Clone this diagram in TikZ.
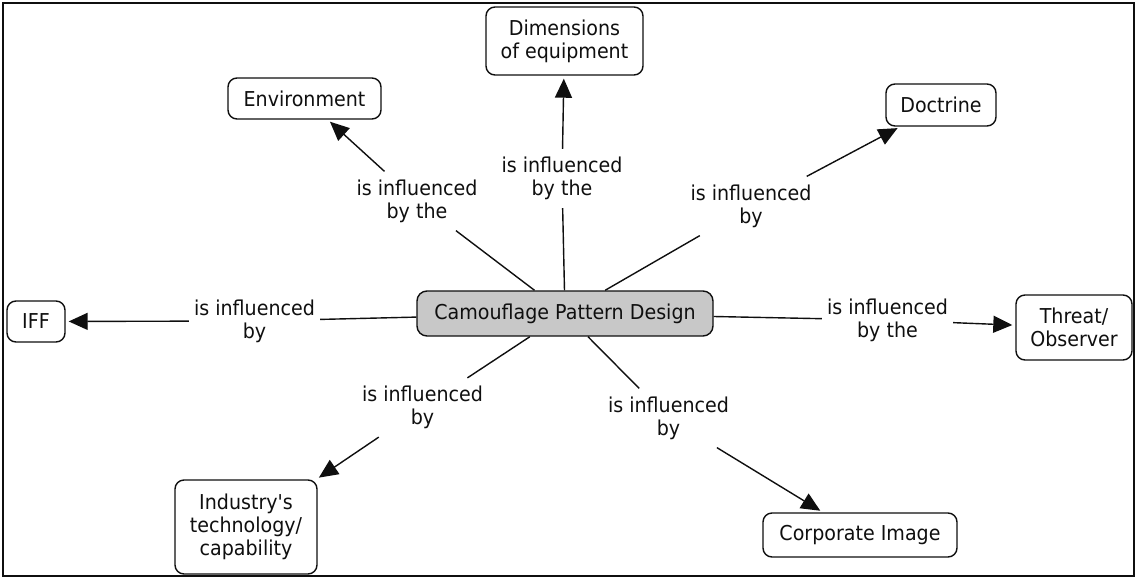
\documentclass[tikz,border=0pt]{standalone}
\usepackage{fontspec}
\newfontfamily\dvfont[FakeStretch=0.93]{DejaVu Sans}
\usetikzlibrary{arrows.meta}
\definecolor{boxgray}{RGB}{200,200,200}
\definecolor{inkc}{RGB}{15,15,15}
\begin{document}
\begin{tikzpicture}[x=1pt,y=-1pt,
  every node/.style={font=\dvfont\fontsize{20.5}{23}\selectfont, text=inkc},
  concept/.style={draw=inkc, line width=1.4pt, rounded corners=9pt, align=center, inner sep=0pt, fill=white},
  linklabel/.style={align=center, inner xsep=5pt, inner ysep=8pt},
  conn/.style={draw=inkc, line width=1.4pt},
  arr/.style={conn, -{Triangle[length=19pt,width=17pt]}, shorten >=3pt}]
\useasboundingbox (0,0) rectangle (1136,579);
\draw[line width=1.6pt, draw=inkc] (3,3) rectangle (1134,576);

\node[concept, fill=boxgray, minimum width=296pt, minimum height=45pt, rounded corners=10pt] (c) at (565,313.5) {Camouflage Pattern Design};

\node[concept, minimum width=153pt, minimum height=41pt] (env) at (304.5,98.5) {Environment};
\node[concept, minimum width=157pt, minimum height=68pt] (dim) at (564.5,41) {Dimensions\\of equipment};
\node[concept, minimum width=110pt, minimum height=42pt] (doc) at (941,105) {Doctrine};
\node[concept, minimum width=58pt, minimum height=41pt] (iff) at (36,321.5) {IFF};
\node[concept, minimum width=116pt, minimum height=65pt] (thr) at (1074,327.5) {Threat/\\Observer};
\node[concept, minimum width=142pt, minimum height=94pt] (ind) at (246,527) {Industry's\\technology/\\capability};
\node[concept, minimum width=194pt, minimum height=44pt] (corp) at (860,535) {Corporate Image};

\node[linklabel] (lenv) at (417,201) {is influenced\\by the};
\node[linklabel] (ldim) at (562,178.5) {is influenced\\by the};
\node[linklabel] (ldoc) at (751,206) {is influenced\\by};
\node[linklabel] (liff) at (254.5,321) {is influenced\\by};
\node[linklabel] (lthr) at (887.5,320) {is influenced\\by the};
\node[linklabel] (lind) at (422.5,407.5) {is influenced\\by};
\node[linklabel] (lcorp) at (668.5,418) {is influenced\\by};

\draw[conn] (c) -- (lenv);  \draw[arr] (lenv) -- (env);
\draw[conn] (c) -- (ldim);  \draw[arr] (ldim) -- (dim);
\draw[conn] (c) -- (ldoc);  \draw[arr] (ldoc) -- (doc);
\draw[conn] (c) -- (liff);  \draw[arr] (liff) -- (iff);
\draw[conn] (c) -- (lthr);  \draw[arr] (lthr) -- (thr);
\draw[conn] (c) -- (lind);  \draw[arr] (lind) -- (ind);
\draw[conn] (c) -- (lcorp); \draw[arr] (lcorp) -- (corp);
\end{tikzpicture}
\end{document}
